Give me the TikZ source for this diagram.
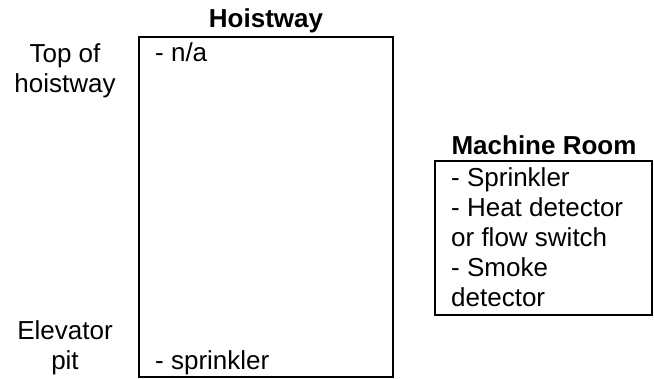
\documentclass[tikz,border=0pt]{standalone}
\usepackage{fontspec}
\setmainfont{Liberation Sans}
\usetikzlibrary{positioning}
\tikzset{
  room/.style={draw, line width=2.6pt, inner sep=0pt},
  roomtitle/.style={font=\bfseries\fontsize{26}{30}\selectfont, anchor=base, inner sep=0pt},
  entry/.style={font=\fontsize{26}{30}\selectfont, align=left, anchor=base west, inner sep=0pt},
  level/.style={font=\fontsize{26}{30}\selectfont, align=center, anchor=base, inner sep=0pt}
}

\begin{document}
\begin{tikzpicture}[x=1pt, y=-1pt]
  \useasboundingbox (0,0) rectangle (654,379);

  % hoistway shaft
  \node[room, minimum width=254pt, minimum height=340pt] (shaft) at (266,207) {};
  \node[roomtitle] (shafttitle) at (266,28) {Hoistway};
  \node[entry] (shafttop) at (155,61.7) {- n/a};
  \node[entry] (shaftpit) at (155,370) {- sprinkler};

  % levels along the shaft (base = last line)
  \node[level] (toplevel) at (65,92.7) {Top of\\hoistway};
  \node[level] (pitlevel) at (65,370) {Elevator\\pit};

  % machine room
  \node[room, minimum width=217pt, minimum height=154pt] (machine) at (543.5,238) {};
  \node[roomtitle] (machinetitle) at (544,155) {Machine Room};
  \node[entry] (machinelist) at (451,306.7)
    {- Sprinkler\\- Heat detector\\or flow switch\\- Smoke\\detector};
\end{tikzpicture}
\end{document}
